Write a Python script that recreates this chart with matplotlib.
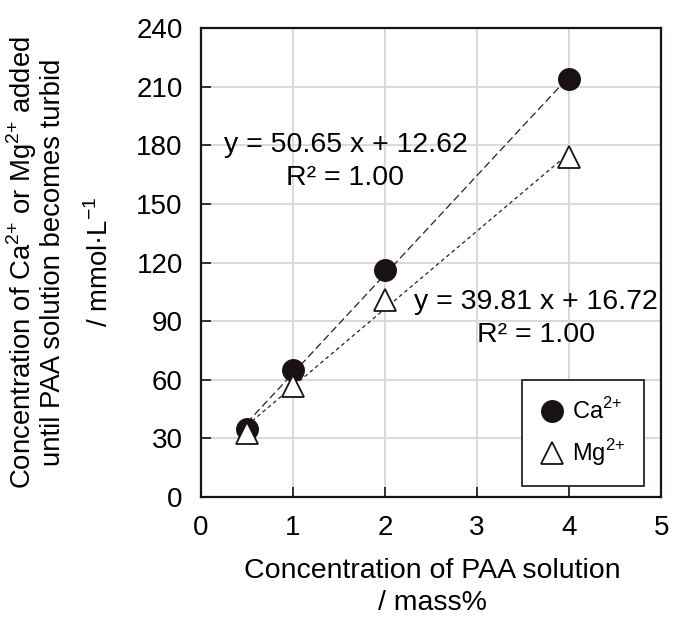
import numpy as np
import matplotlib.pyplot as plt

plt.rcParams['font.family'] = ['Liberation Sans', 'DejaVu Sans']
plt.rcParams['mathtext.fontset'] = 'custom'
plt.rcParams['mathtext.rm'] = 'Liberation Sans'

# data
paa_conc = [0.5, 1, 2, 4]
ca_conc = [35, 65, 116, 214]
mg_conc = [33, 57, 101, 174]
ca_fit = (50.65, 12.62)
mg_fit = (39.81, 16.72)

fig = plt.figure(figsize=(6.74, 6.17), dpi=100)
ax = fig.add_axes([0.298, 0.1945, 0.683, 0.760])

xs = np.array([paa_conc[0], paa_conc[-1]])
ax.plot(xs, ca_fit[0] * xs + ca_fit[1], color='#222222', lw=0.9, ls=(0, (6, 3)), zorder=2)
ax.plot(xs, mg_fit[0] * xs + mg_fit[1], color='#222222', lw=0.9, ls=(0, (3, 2.5)), zorder=2)

ax.plot(paa_conc, ca_conc, 'o', ms=15.5, color='#1a1212', ls='none', label='Ca$^{2{+}}$', zorder=3)
ax.plot(paa_conc, mg_conc, '^', ms=16, mfc='white', mec='#1a1212', mew=1.3, ls='none',
        label='Mg$^{2{+}}$', zorder=4)

ax.set_xlim(0, 5)
ax.set_ylim(0, 240)
ax.set_xticks(range(0, 6))
ax.set_yticks(range(0, 241, 30))
ax.grid(True, color='#d9d9d9', lw=1.4)
ax.set_axisbelow(True)
ax.tick_params(direction='in', length=7, width=1.2, labelsize=20, color='#1a1212', pad=13)
for side in ['top', 'right', 'left', 'bottom']:
    ax.spines[side].set_linewidth(1.6)
    ax.spines[side].set_color('#1a1212')

ax.text(1.571, 180.1, 'y = 50.65 x + 12.62', fontsize=20.5, ha='center', va='center')
ax.text(1.565, 163.3, 'R² = 1.00', fontsize=20.5, ha='center', va='center')
ax.text(3.636, 99.8, 'y = 39.81 x + 16.72', fontsize=20.5, ha='center', va='center')
ax.text(3.636, 82.9, 'R² = 1.00', fontsize=20.5, ha='center', va='center')

leg = ax.legend(loc='upper left', bbox_to_anchor=(0.698, 0.249), borderaxespad=0, fontsize=17,
                frameon=True, fancybox=False, edgecolor='#1a1212', framealpha=1, borderpad=0.77,
                labelspacing=0.55, handletextpad=0.36, handlelength=1.0, markerscale=1.0)
leg.get_frame().set_linewidth(1.2)

fig.text(0.641, 0.0746, 'Concentration of PAA solution', fontsize=20.5, ha='center', va='center')
fig.text(0.641, 0.023, '/ mass%', fontsize=20.5, ha='center', va='center')
fig.text(0.033, 0.575, 'Concentration of Ca$^{2{+}}$ or Mg$^{2{+}}$ added', fontsize=19.8,
         rotation=90, ha='center', va='center')
fig.text(0.078, 0.575, 'until PAA solution becomes turbid', fontsize=19.8,
         rotation=90, ha='center', va='center')
fig.text(0.148, 0.575, '/ mmol·L$^{-1}$', fontsize=19.8, rotation=90, ha='center', va='center')

fig.savefig('out.png', dpi=100)
